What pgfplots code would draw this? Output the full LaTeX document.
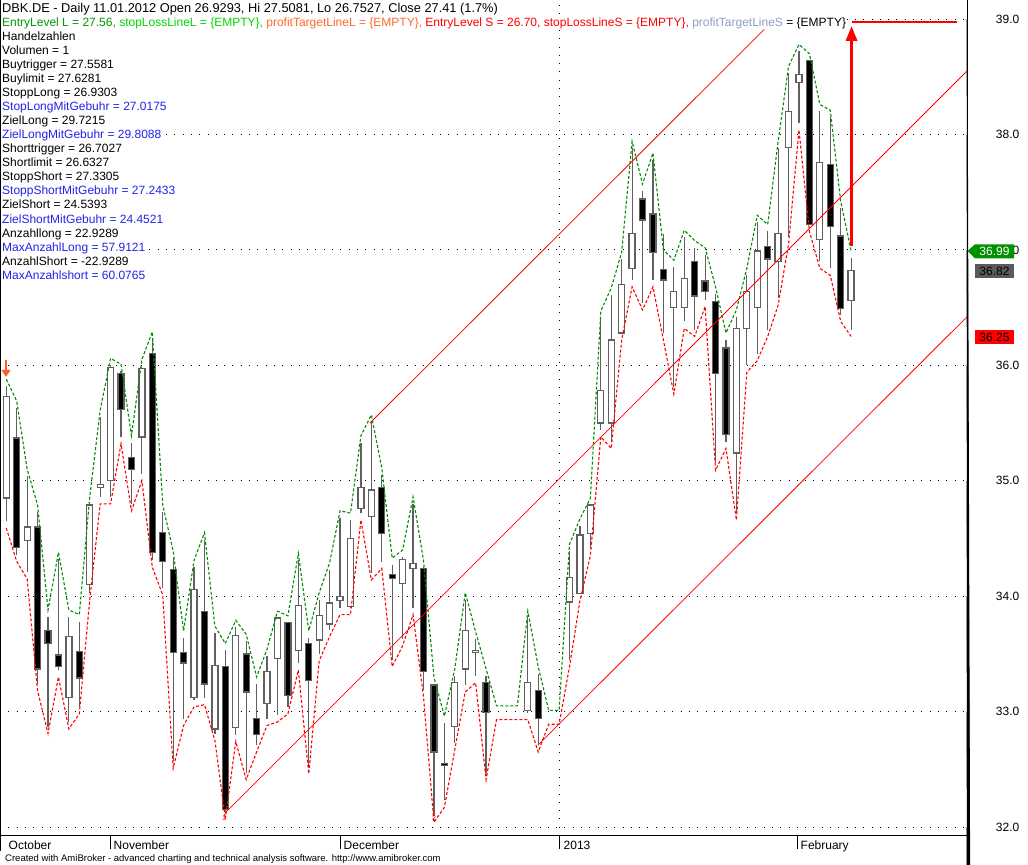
\documentclass[border=0pt]{standalone}
\usepackage{pgfplots}
\pgfplotsset{compat=1.18}
\usepackage{pgfplotstable}
\usepackage{fontspec}
\setmainfont{Liberation Sans}
\usetikzlibrary{arrows.meta}

\definecolor{wick}{RGB}{96,96,96}
\definecolor{elgreen}{RGB}{0,150,0}
\definecolor{sllime}{RGB}{0,215,0}
\definecolor{ptorange}{RGB}{255,105,45}
\definecolor{txtblue}{RGB}{35,35,235}
\definecolor{ptsteel}{RGB}{140,160,200}
\definecolor{dashgreen}{RGB}{0,140,0}
\definecolor{taggreen}{RGB}{0,145,0}
\definecolor{taggray}{RGB}{90,90,90}
\definecolor{sigorange}{RGB}{255,95,35}

\newcommand\lbl{\fontsize{12bp}{14bp}\selectfont}
\newcommand\foot{\fontsize{9.5bp}{11bp}\selectfont}

% daily bars: open high low close, upper (G) and lower (R) dashed bands
\pgfplotstableread{
i  O     H     L     C     G     R
0  34.85 35.82 34.65 35.73 35.88 34.59
1  35.37 35.63 34.36 34.42 35.69 34.30
2  34.48 35.04 34.21 34.60 35.10 34.15
3  34.60 34.73 33.24 33.37 34.79 33.18
4  33.70 33.82 32.87 33.59 33.88 32.81
5  33.49 34.32 33.36 33.39 34.38 33.30
6  33.12 33.82 32.91 33.65 33.88 32.85
7  33.52 33.78 33.04 33.29 33.84 32.98
8  34.10 34.80 34.03 34.79 34.86 33.97
9  34.94 35.55 34.86 34.97 35.61 34.80
10 35.00 36.00 34.86 35.98 36.06 34.80
11 35.93 35.95 35.38 35.62 36.01 35.32
12 35.20 35.33 34.80 35.10 35.39 34.74
13 35.38 35.99 35.06 35.97 36.05 35.00
14 36.10 36.23 34.31 34.38 36.29 34.25
15 34.55 34.73 34.07 34.30 34.79 34.01
16 34.23 34.33 32.57 33.51 34.39 32.51
17 33.51 33.64 32.94 33.42 33.70 32.88
18 33.12 34.25 33.10 34.06 34.31 33.04
19 33.87 34.49 33.12 33.24 34.55 33.06
20 32.85 33.68 32.81 33.40 33.74 32.75
21 33.39 33.53 32.13 32.15 33.59 32.07
22 32.86 33.73 32.80 33.66 33.79 32.74
23 33.50 33.61 32.47 33.17 33.67 32.41
24 32.94 33.24 32.71 32.80 33.30 32.65
25 33.07 33.48 32.94 33.35 33.54 32.88
26 33.46 33.81 32.97 33.81 33.87 32.91
27 33.77 33.77 33.04 33.14 33.83 32.98
28 33.53 34.31 33.42 33.92 34.37 33.36
29 33.59 33.64 32.52 33.27 33.70 32.46
30 33.62 33.97 33.50 33.83 34.03 33.44
31 33.76 34.23 33.71 33.94 34.29 33.65
32 33.96 34.68 33.90 34.00 34.74 33.84
33 33.91 34.66 33.90 34.50 34.72 33.84
34 34.76 35.33 34.72 34.94 35.39 34.66
35 34.69 35.51 34.20 34.92 35.57 34.14
36 34.94 35.05 34.30 34.54 35.11 34.24
37 34.19 34.27 33.45 34.15 34.33 33.39
38 34.11 34.34 33.63 34.32 34.40 33.57
39 34.24 34.80 33.90 34.28 34.86 33.84
40 34.24 34.25 33.19 33.35 34.31 33.13
41 33.23 33.24 32.10 32.65 33.30 32.04
42 32.55 32.90 32.23 32.53 32.96 32.17
43 32.87 33.31 32.73 33.25 33.37 32.67
44 33.37 33.97 33.23 33.70 34.03 33.17
45 33.51 33.63 33.31 33.53 33.69 33.25
46 33.25 33.31 32.47 32.99 33.37 32.41
47 32.99 32.99 32.99 32.99 33.05 32.93
48 32.99 32.99 32.99 32.99 33.05 32.93
49 32.99 32.99 32.99 32.99 33.05 32.93
50 33.01 33.81 32.99 33.25 33.87 32.93
51 33.18 33.33 32.71 32.94 33.39 32.65
52 32.95 32.95 32.95 32.95 33.01 32.89
53 32.95 32.95 32.95 32.95 33.01 32.89
54 33.95 34.39 33.45 34.16 34.45 33.39
55 34.02 34.61 34.02 34.53 34.67 33.96
56 34.54 34.79 34.41 34.79 34.85 34.35
57 35.50 36.41 35.44 35.78 36.47 35.38
58 35.50 36.61 35.34 36.22 36.67 35.28
59 36.28 36.92 36.28 36.70 36.98 36.22
60 36.84 37.88 36.74 37.14 37.94 36.68
61 37.44 37.51 36.54 37.26 37.57 36.48
62 37.31 37.78 36.74 36.98 37.84 36.68
63 36.83 37.14 36.28 36.74 37.00 36.22
64 36.50 36.85 35.81 36.64 36.91 35.75
65 36.50 37.11 36.38 36.75 37.17 36.32
66 36.90 37.02 36.31 36.60 37.08 36.25
67 36.73 36.96 36.57 36.64 37.02 36.51
68 36.55 36.62 35.15 35.93 36.68 35.09
69 36.15 36.22 35.34 35.40 36.28 35.28
70 35.24 36.42 34.72 36.32 36.48 34.66
71 36.32 36.78 36.00 36.64 36.84 35.94
72 36.50 37.24 36.10 36.99 37.30 36.04
73 37.03 37.16 36.31 36.92 37.22 36.25
74 36.90 37.88 36.58 37.14 37.94 36.52
75 37.89 38.53 37.11 38.20 38.59 37.05
76 38.45 38.72 38.10 38.52 38.78 38.04
77 38.64 38.64 37.22 37.22 38.70 37.16
78 37.09 38.20 36.90 37.76 38.26 36.84
79 37.74 38.15 36.84 37.20 38.21 36.78
80 37.12 37.36 36.44 36.49 37.42 36.38
81 36.56 36.93 36.31 36.82 36.99 36.25
}\bars

\pgfplotsset{chart/.style={at={(0,29bp)}, anchor=south west,
  width=967bp, height=836bp, scale only axis,
  xmin=-0.604, xmax=92.11, ymin=31.922, ymax=39.165, axis lines=none}}
\tikzset{gridline/.style={black, line width=1bp, dash pattern=on 1bp off 7.3bp},
  txt/.style={font=\lbl, fill=white, inner sep=0.5bp, anchor=base west}}

\begin{document}
\begin{tikzpicture}
\useasboundingbox (0,0) rectangle (1028bp,865bp);
\fill[white] (0,0) rectangle (1028bp,865bp);

% grid, price scale and wicks
\begin{axis}[chart, clip=false]
\pgfplotsinvokeforeach{32,...,39}{
  \draw[gridline] (axis cs:-0.604,#1) -- (axis cs:92.11,#1);
  \draw[black, line width=1bp] (axis cs:92.11,#1) -- ++(5bp,0);
  \node[anchor=east, inner sep=0, font=\lbl, xshift=52.5bp] at (axis cs:92.11,#1) {#1.0};
}
\draw[gridline] (axis cs:53.02,31.922) -- (axis cs:53.02,39.165);
\addplot[draw=none, error bars/.cd, y dir=plus, y explicit, error mark=none,
  error bar style={draw=wick, line width=1.2bp, solid}]
  table[x=i, y=L, y error plus expr={\thisrow{H}-\thisrow{L}}] {\bars};
\end{axis}

% candle bodies
\begin{axis}[chart, ybar stacked, bar width=6bp]
\addplot[draw=none, fill=none] table[x=i, y expr={min(\thisrow{O},\thisrow{C})}] {\bars};
\addplot[draw=wick, fill=white, line width=1.3bp] table[x=i, y expr={max(\thisrow{C}-\thisrow{O},0)}] {\bars};
\addplot[draw=wick, fill=black, line width=1.3bp] table[x=i, y expr={max(\thisrow{O}-\thisrow{C},0)}] {\bars};
\end{axis}

% bands, trend lines, signals
\begin{axis}[chart]
\addplot[dashgreen, line width=1.1bp, dash pattern=on 3bp off 2bp] table[x=i, y=G] {\bars};
\addplot[red, line width=1.1bp, dash pattern=on 3bp off 2bp] table[x=i, y=R] {\bars};
\addplot[red, line width=0.8bp] coordinates {(20.97,32.12) (92.11,38.55)};
\addplot[red, line width=0.8bp] coordinates {(34.87,35.50) (72.67,38.91)};
\addplot[red, line width=0.8bp] coordinates {(50.98,32.71) (92.11,36.42)};
\addplot[red, line width=3bp, -{Triangle[length=15bp,width=11bp]}] coordinates {(81.04,37.03) (81.04,38.94)};
\addplot[red, line width=2bp] coordinates {(81.08,38.974) (91.15,38.974)};
\addplot[sigorange, line width=2.5bp, -{Triangle[length=7bp,width=9bp]}] coordinates {(-0.03,36.05) (-0.03,35.90)};
\end{axis}

\begin{scope}[x=1bp, y=-1bp, yshift=865bp]
% frame and date scale
\draw[black, line width=1bp] (0.5,0) -- (0.5,851);
\draw[black, line width=1bp] (967,0) -- (967,851);
\draw[black, line width=1bp] (0,836) -- (967,836);
\foreach \sx in {110,340,559.5,797} \draw[black, line width=1bp] (\sx,836) -- (\sx,849);
\node[txt] at (8,849.4) {October};
\node[txt] at (113,849.4) {November};
\node[txt] at (343,849.4) {December};
\node[txt] at (563,849.4) {2013};
\node[txt] at (800,849.4) {February};
\node[anchor=base west, inner sep=0, font=\foot] at (5,861.6) {Created with AmiBroker - advanced charting and technical analysis software. http://www.amibroker.com};
\node[red, inner sep=0, font=\fontsize{7bp}{8bp}\selectfont] at (224,818) {1};
\node[red, inner sep=0, font=\fontsize{7bp}{8bp}\selectfont] at (434,818) {2};

% value tags
\fill[taggreen] (967.5,251) -- (975,244.3) -- (1014,244.3) -- (1014,258.3) -- (975,258.3) -- cycle;
\node[white, font=\lbl, inner sep=0] at (994.5,251.3) {36.99};
\fill[taggray] (975,264.3) rectangle (1014,278.3);
\node[black, font=\lbl, inner sep=0] at (994.5,271.3) {36.82};
\fill[red] (975,330) rectangle (1014,344.3);
\node[black, font=\lbl, inner sep=0] at (994.5,337.2) {36.25};

% title and study values
\node[txt, font=\fontsize{12.8bp}{14bp}\selectfont] at (1.5,12.3) {DBK.DE - Daily 11.01.2012 Open 26.9293, Hi 27.5081, Lo 26.7527, Close 27.41 (1.7\%)};
\node[txt] at (1.5,26.35) {\textcolor{elgreen}{EntryLevel L = 27.56,} \textcolor{sllime}{stopLossLineL = \{EMPTY\},} \textcolor{ptorange}{profitTargetLineL = \{EMPTY\},} \textcolor{red}{EntryLevel S = 26.70,} \textcolor{red}{stopLossLineS = \{EMPTY\},} \textcolor{ptsteel}{profitTargetLineS} = \{EMPTY\}};
\node[txt] at (1.5,40.4) {Handelzahlen};
\node[txt] at (1.5,54.45) {Volumen = 1};
\node[txt] at (1.5,68.5) {Buytrigger = 27.5581};
\node[txt] at (1.5,82.55) {Buylimit = 27.6281};
\node[txt] at (1.5,96.6) {StoppLong = 26.9303};
\node[txt, text=txtblue] at (1.5,110.65) {StopLongMitGebuhr = 27.0175};
\node[txt] at (1.5,124.7) {ZielLong = 29.7215};
\node[txt, text=txtblue] at (1.5,138.75) {ZielLongMitGebuhr = 29.8088};
\node[txt] at (1.5,152.8) {Shorttrigger = 26.7027};
\node[txt] at (1.5,166.85) {Shortlimit = 26.6327};
\node[txt] at (1.5,180.9) {StoppShort = 27.3305};
\node[txt, text=txtblue] at (1.5,194.95) {StoppShortMitGebuhr = 27.2433};
\node[txt] at (1.5,209.0) {ZielShort = 24.5393};
\node[txt, text=txtblue] at (1.5,223.05) {ZielShortMitGebuhr = 24.4521};
\node[txt] at (1.5,237.1) {Anzahllong = 22.9289};
\node[txt, text=txtblue] at (1.5,251.15) {MaxAnzahlLong = 57.9121};
\node[txt] at (1.5,265.2) {AnzahlShort = -22.9289};
\node[txt, text=txtblue] at (1.5,279.25) {MaxAnzahlshort = 60.0765};
\end{scope}
\end{tikzpicture}
\end{document}
